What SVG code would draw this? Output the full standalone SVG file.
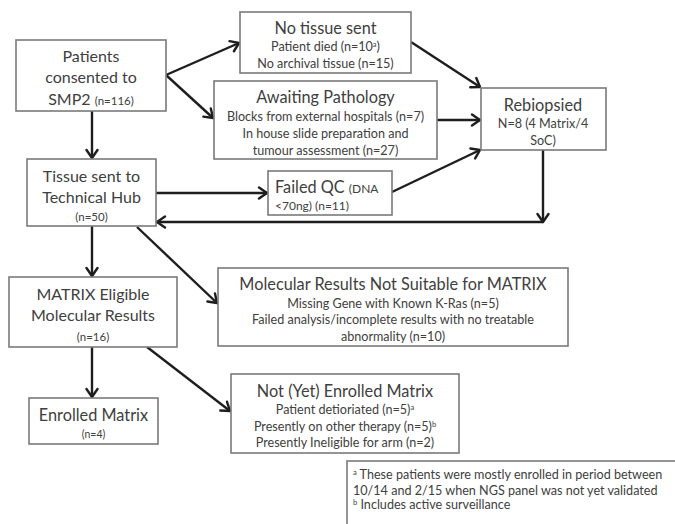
<svg xmlns="http://www.w3.org/2000/svg" width="675" height="524" viewBox="0 0 675 524">
<defs>
<marker id="ah" markerUnits="userSpaceOnUse" markerWidth="14" markerHeight="14" refX="11" refY="7" orient="auto">
<path d="M3,1.5 L11,7 L3,12.5" fill="none" stroke="#1e1e1e" stroke-width="2.4" stroke-linecap="round" stroke-linejoin="round"/>
</marker>
</defs>
<style>
.box{fill:#fff;stroke:#7a7a7a;stroke-width:1.6}
.t{font-family:Lato,"Open Sans","Liberation Sans",sans-serif;fill:#404040;text-anchor:middle}
.h{font-size:16.3px}
.s{font-size:12.6px}
.c{fill:none;stroke:#1e1e1e;stroke-width:2.4;marker-end:url(#ah)}
</style>
<rect width="675" height="524" fill="#fff"/>
<g id="connectors">
<path class="c" d="M166,75 L239,43"/>
<path class="c" d="M166,75 L213,118"/>
<path class="c" d="M92,111 L92,158"/>
<path class="c" d="M411,42 L480,87"/>
<path class="c" d="M437,120 L480,120"/>
<path class="c" d="M392,192 L480,150"/>
<path class="c" d="M156,193 L267,193"/>
<path class="c" d="M543,150 L543,222"/>
<path class="c" d="M543,222 L157,222"/>
<path class="c" d="M137,227 L217,303"/>
<path class="c" d="M92,226 L92,276"/>
<path class="c" d="M92,347 L92,397"/>
<path class="c" d="M147,347 L230,411"/>
</g>
<g id="patients">
<rect class="box" x="16" y="40" width="150" height="71"/>
<text class="t" x="91" y="62" font-size="16">Patients</text>
<text class="t" x="91" y="83" font-size="16">consented to</text>
<text class="t" x="91" y="105" font-size="16">SMP2 <tspan font-size="11.5">(n=116)</tspan></text>
</g>
<g id="no-tissue">
<rect class="box" x="240" y="12" width="171" height="61"/>
<text class="t h" x="325.5" y="34">No tissue sent</text>
<text class="t s" x="325.5" y="51">Patient died (n=10<tspan font-size="7.5" dy="-4">a</tspan><tspan dy="4">)</tspan></text>
<text class="t s" x="325.5" y="68">No archival tissue  (n=15)</text>
</g>
<g id="awaiting">
<rect class="box" x="214" y="81" width="223" height="78"/>
<text class="t h" x="325.5" y="103">Awaiting Pathology</text>
<text class="t s" x="325.5" y="121">Blocks from external hospitals (n=7)</text>
<text class="t s" x="325.5" y="138">In house slide preparation and</text>
<text class="t s" x="325.5" y="155">tumour assessment (n=27)</text>
</g>
<g id="rebiopsied">
<rect class="box" x="481" y="88" width="125" height="62"/>
<text class="t h" x="543" y="111">Rebiopsied</text>
<text class="t s" x="543" y="128">N=8 (4 Matrix/4</text>
<text class="t s" x="543" y="145">SoC)</text>
</g>
<g id="tissue-hub">
<rect class="box" x="27" y="159" width="129" height="67"/>
<text class="t" x="91.5" y="182" font-size="16">Tissue sent to</text>
<text class="t" x="91.5" y="203" font-size="16">Technical Hub</text>
<text class="t s" x="91.5" y="221" font-size="11.5" style="font-size:11.5px">(n=50)</text>
</g>
<g id="failed-qc">
<rect class="box" x="268" y="171" width="124" height="44"/>
<text class="t h" x="275" y="193" style="text-anchor:start">Failed QC <tspan font-size="12">(DNA</tspan></text>
<text class="t s" x="275" y="210" style="text-anchor:start;font-size:12px">&lt;70ng) (n=11)</text>
</g>
<g id="not-suitable">
<rect class="box" x="218" y="268" width="350" height="78"/>
<text class="t h" x="393" y="290">Molecular Results Not Suitable for MATRIX</text>
<text class="t s" x="393" y="308">Missing Gene with Known K-Ras (n=5)</text>
<text class="t s" x="393" y="324">Failed analysis/incomplete results with no treatable</text>
<text class="t s" x="393" y="341">abnormality (n=10)</text>
</g>
<g id="matrix-eligible">
<rect class="box" x="9" y="277" width="168" height="70"/>
<text class="t" x="93" y="300" font-size="16">MATRIX  Eligible</text>
<text class="t" x="93" y="321" font-size="16">Molecular Results</text>
<text class="t s" x="93" y="341" style="font-size:11.5px">(n=16)</text>
</g>
<g id="enrolled">
<rect class="box" x="29" y="398" width="129" height="46"/>
<text class="t" x="93.5" y="421" font-size="16.3">Enrolled Matrix</text>
<text class="t" x="93.5" y="438" font-size="10.5">(n=4)</text>
</g>
<g id="not-yet">
<rect class="box" x="231" y="374" width="228" height="79"/>
<text class="t h" x="345" y="397">Not (Yet) Enrolled Matrix</text>
<text class="t s" x="345" y="414">Patient detioriated (n=5)<tspan font-size="7.5" dy="-4">a</tspan></text>
<text class="t s" x="345" y="431">Presently on other therapy (n=5)<tspan font-size="7.5" dy="-4">b</tspan></text>
<text class="t s" x="345" y="447">Presently Ineligible for arm (n=2)</text>
</g>
<g id="footnote">
<rect class="box" x="347" y="461" width="340" height="80"/>
<text class="t s" x="353" y="479" style="text-anchor:start"><tspan font-size="7.5" dy="-4">a</tspan><tspan dy="4"> These patients were mostly enrolled in period between</tspan></text>
<text class="t s" x="353" y="495" style="text-anchor:start">10/14 and 2/15 when NGS panel was not yet validated</text>
<text class="t s" x="353" y="509" style="text-anchor:start"><tspan font-size="7.5" dy="-4">b</tspan><tspan dy="4"> Includes active surveillance</tspan></text>
</g>
</svg>
